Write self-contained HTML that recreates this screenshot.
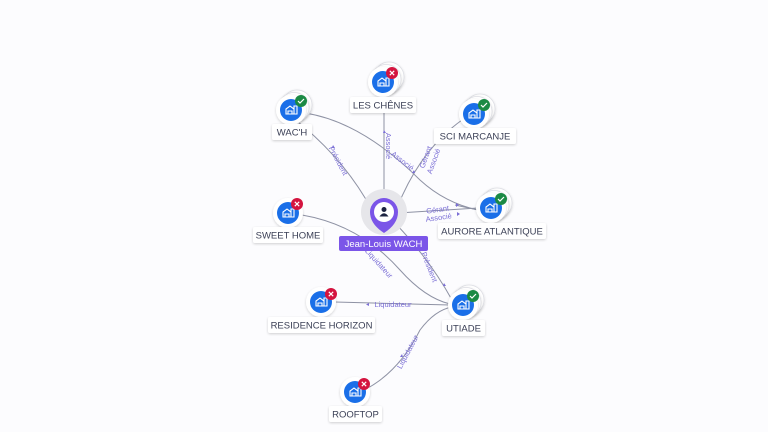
<!DOCTYPE html>
<html><head><meta charset="utf-8"><style>
html,body{margin:0;padding:0;background:#fcfcfe;}
svg{display:block;font-family:"Liberation Sans",sans-serif;}
.lbl{font-size:9.5px;fill:#3a3f55;}
.el{font-size:7.5px;fill:#7b6fd6;}
.e{fill:none;stroke:#8e92a4;stroke-width:1;}
</style></head><body>
<svg width="768" height="432" viewBox="0 0 768 432">
<defs>
<filter id="sh" x="-50%" y="-50%" width="200%" height="200%"><feDropShadow dx="0" dy="1" stdDeviation="1.2" flood-color="#000" flood-opacity="0.18"/></filter>
<g id="bld"><path d="M-5,4 V-1 L-1,-4 L3,-1 V4 Z M-3,4 V1 H1 V4 M3,4 V-4 H6 V4 Z" fill="none" stroke="#fff" stroke-width="1.1"/></g>
<g id="ok"><circle r="6" fill="#1b8a44"/><path d="M-3,0 L-1,2 L3,-2" fill="none" stroke="#fff" stroke-width="1.2"/></g>
<g id="ko"><circle r="6" fill="#d4143f"/><path d="M-2.2,-2.2 L2.2,2.2 M2.2,-2.2 L-2.2,2.2" stroke="#fff" stroke-width="1.2"/></g>
<g id="stk"><circle cx="6" cy="-5" r="15" fill="#fff" stroke="#dcdde3" stroke-width="0.8" filter="url(#sh)"/><circle cx="3" cy="-2.5" r="15" fill="#fff" stroke="#dcdde3" stroke-width="0.8" filter="url(#sh)"/><circle r="15" fill="#fff" filter="url(#sh)"/><circle r="11" fill="#1a6fe8"/><use href="#bld"/></g>
<g id="one"><circle r="15" fill="#fff" filter="url(#sh)"/><circle r="11" fill="#1a6fe8"/><use href="#bld"/></g>
</defs>

<!-- edges -->
<path class="e" d="M298,122 Q345,160 372,210"/>
<path class="e" d="M305,113 C350,120 390,150 420,180 Q445,203 478,210"/>
<path class="e" d="M384,112 V196"/>
<path class="e" d="M462,120 Q420,150 397,208"/>
<path class="e" d="M398,213 L478,208"/>
<path class="e" d="M455,205 L478,210"/>
<path class="e" d="M302,215 Q360,225 400,270 Q425,298 450,304"/>
<path class="e" d="M396,224 Q430,260 452,300"/>
<path class="e" d="M335,302 L450,305"/>
<path class="e" d="M368,388 Q400,370 420,330 Q435,310 452,307"/>

<!-- edge labels -->
<text class="el" transform="translate(336,162) rotate(62)" text-anchor="middle">Président</text>
<text class="el" transform="translate(401,163) rotate(38)" text-anchor="middle">Associé</text>
<text class="el" transform="translate(386,146) rotate(90)" text-anchor="middle">Associé</text>
<text class="el" transform="translate(428,158) rotate(-70)" text-anchor="middle">Gérant</text>
<text class="el" transform="translate(436,162) rotate(-70)" text-anchor="middle">Associé</text>
<text class="el" transform="translate(438,212) rotate(-8)" text-anchor="middle">Gérant</text>
<text class="el" transform="translate(439,220) rotate(-8)" text-anchor="middle">Associé</text>
<text class="el" transform="translate(377,265) rotate(48)" text-anchor="middle">Liquidateur</text>
<text class="el" transform="translate(427,268) rotate(68)" text-anchor="middle">Président</text>
<text class="el" x="393" y="307" text-anchor="middle">Liquidateur</text>
<text class="el" transform="translate(410,353) rotate(-62)" text-anchor="middle">Liquidateur</text>
<g fill="#7b6fd6">
<path d="M333,145 l2,3 h-3z"/><path d="M384,130 l2,3 h-3z"/><path d="M412,173 l2,-3 l1,3z"/>
<path d="M456,203 l3,2 l-3,2z"/><path d="M457,212 l3,2 l-3,2z"/><path d="M413,200 l0,0z"/>
<path d="M369,303 l-3,1.5 l3,1.5z"/><path d="M400,357 l2,-3 l1,3z"/><path d="M444,283 l2,3 h-3z"/>
</g>

<!-- center -->
<circle cx="384" cy="212" r="23" fill="#e6e6ea"/>
<path d="M370,212 A14,14 0 1 1 398,212 Q398,224 384,233 Q370,224 370,212Z" fill="#7b55e8"/>
<circle cx="384" cy="212" r="10" fill="#fff"/>
<circle cx="384" cy="209.5" r="2.5" fill="#1c2340"/>
<path d="M379.5,216.5 Q384,210 388.5,216.5Z" fill="#1c2340"/>
<rect x="339" y="236" width="89" height="15" rx="2" fill="#7b55e8"/>
<text x="383.5" y="247" font-size="9.5" fill="#fff" text-anchor="middle">Jean-Louis WACH</text>

<!-- nodes -->
<g transform="translate(383,82)"><use href="#stk"/><use href="#ko" x="9" y="-9"/></g>
<rect x="350" y="97" width="66" height="16" rx="2" fill="#fff" filter="url(#sh)"/><text class="lbl" x="383" y="108.5" text-anchor="middle">LES CHÊNES</text>

<g transform="translate(291,110)"><use href="#stk"/><use href="#ok" x="10" y="-9"/></g>
<rect x="272" y="124" width="40" height="16" rx="2" fill="#fff" filter="url(#sh)"/><text class="lbl" x="292" y="135.5" text-anchor="middle">WAC'H</text>

<g transform="translate(474,114)"><use href="#stk"/><use href="#ok" x="10" y="-9"/></g>
<rect x="434" y="128" width="82" height="16" rx="2" fill="#fff" filter="url(#sh)"/><text class="lbl" x="475" y="139.5" text-anchor="middle">SCI MARCANJE</text>

<g transform="translate(491,208)"><use href="#stk"/><use href="#ok" x="10" y="-9"/></g>
<rect x="438" y="223" width="108" height="16" rx="2" fill="#fff" filter="url(#sh)"/><text class="lbl" x="492" y="234.5" text-anchor="middle">AURORE ATLANTIQUE</text>

<g transform="translate(288,213)"><use href="#one"/><use href="#ko" x="9" y="-9"/></g>
<rect x="253" y="227" width="70" height="16" rx="2" fill="#fff" filter="url(#sh)"/><text class="lbl" x="288" y="238.5" text-anchor="middle">SWEET HOME</text>

<g transform="translate(463,305)"><use href="#stk"/><use href="#ok" x="10" y="-9"/></g>
<rect x="442" y="320" width="43" height="16" rx="2" fill="#fff" filter="url(#sh)"/><text class="lbl" x="463.5" y="331.5" text-anchor="middle">UTIADE</text>

<g transform="translate(321,302)"><use href="#one"/><use href="#ko" x="10" y="-8"/></g>
<rect x="268" y="317" width="107" height="16" rx="2" fill="#fff" filter="url(#sh)"/><text class="lbl" x="321.5" y="328.5" text-anchor="middle">RESIDENCE HORIZON</text>

<g transform="translate(355,392)"><use href="#one"/><use href="#ko" x="9" y="-8"/></g>
<rect x="329" y="406" width="53" height="16" rx="2" fill="#fff" filter="url(#sh)"/><text class="lbl" x="355.5" y="417.5" text-anchor="middle">ROOFTOP</text>
</svg>
</body></html>
